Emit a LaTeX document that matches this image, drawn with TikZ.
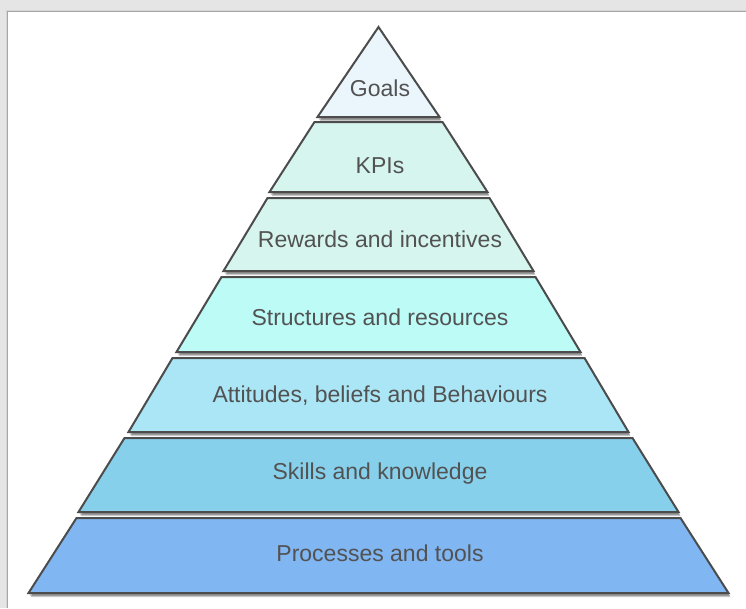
\documentclass[tikz,border=0pt]{standalone}
\usepackage{fontspec}
\setmainfont{Liberation Sans}
\begin{document}
\begin{tikzpicture}[x=1pt,y=-1pt,
  band/.style={draw=black!70,line width=2pt,line join=miter},
  bandshadow/.style={fill=black,opacity=0.22},
  label/.style={text=black!68,font=\fontsize{23}{26}\selectfont,inner sep=0pt}]
\definecolor{cGoals}{RGB}{234,246,252}
\definecolor{cKPI}{RGB}{214,245,239}
\definecolor{cReward}{RGB}{214,245,238}
\definecolor{cStruct}{RGB}{189,251,246}
\definecolor{cAttit}{RGB}{170,230,245}
\definecolor{cSkill}{RGB}{135,208,236}
\definecolor{cProc}{RGB}{128,182,242}
% page and panel
\useasboundingbox (0,0) rectangle (746,608);
\fill[black!10] (0,0) rectangle (746,608);
\fill[black!16] (5.5,9.5) rectangle (746,608);
\fill[white] (7.5,11.5) rectangle (746,608);
\draw[black!35,line width=0.8pt] (7.5,608) -- (7.5,11.5) -- (746,11.5);
% bands: top y / bottom y / top half-width / bottom half-width / colour
\def\cx{378.5}
\foreach \yt/\yb/\wt/\wb/\col in {
  27/117/0/61/cGoals,
  122/192/64/109/cKPI,
  198/271/111/155/cReward,
  277/352/157/202/cStruct,
  358/432/206/250/cAttit,
  438/512/254/300/cSkill,
  518/593/302/350/cProc}{
  % soft drop shadow below the band
  \foreach \s in {1,2,3}
    \fill[bandshadow,xshift=0.7*\s pt,yshift=-1.4*\s pt]
      (\cx-\wt,\yt) -- (\cx+\wt,\yt) -- (\cx+\wb,\yb) -- (\cx-\wb,\yb) -- cycle;
  \filldraw[band,fill=\col]
      (\cx-\wt,\yt) -- (\cx+\wt,\yt) -- (\cx+\wb,\yb) -- (\cx-\wb,\yb) -- cycle;
}
% band labels
\node[label] (goals)  at (380,88)  {Goals};
\node[label] (kpi)    at (380,166) {KPIs};
\node[label] (reward) at (380,239) {Rewards and incentives};
\node[label] (struct) at (380,317) {Structures and resources};
\node[label] (attit)  at (380,396) {Attitudes, beliefs and Behaviours};
\node[label] (skill)  at (380,474) {Skills and knowledge};
\node[label] (proc)   at (380,553) {Processes and tools};
\end{tikzpicture}
\end{document}
